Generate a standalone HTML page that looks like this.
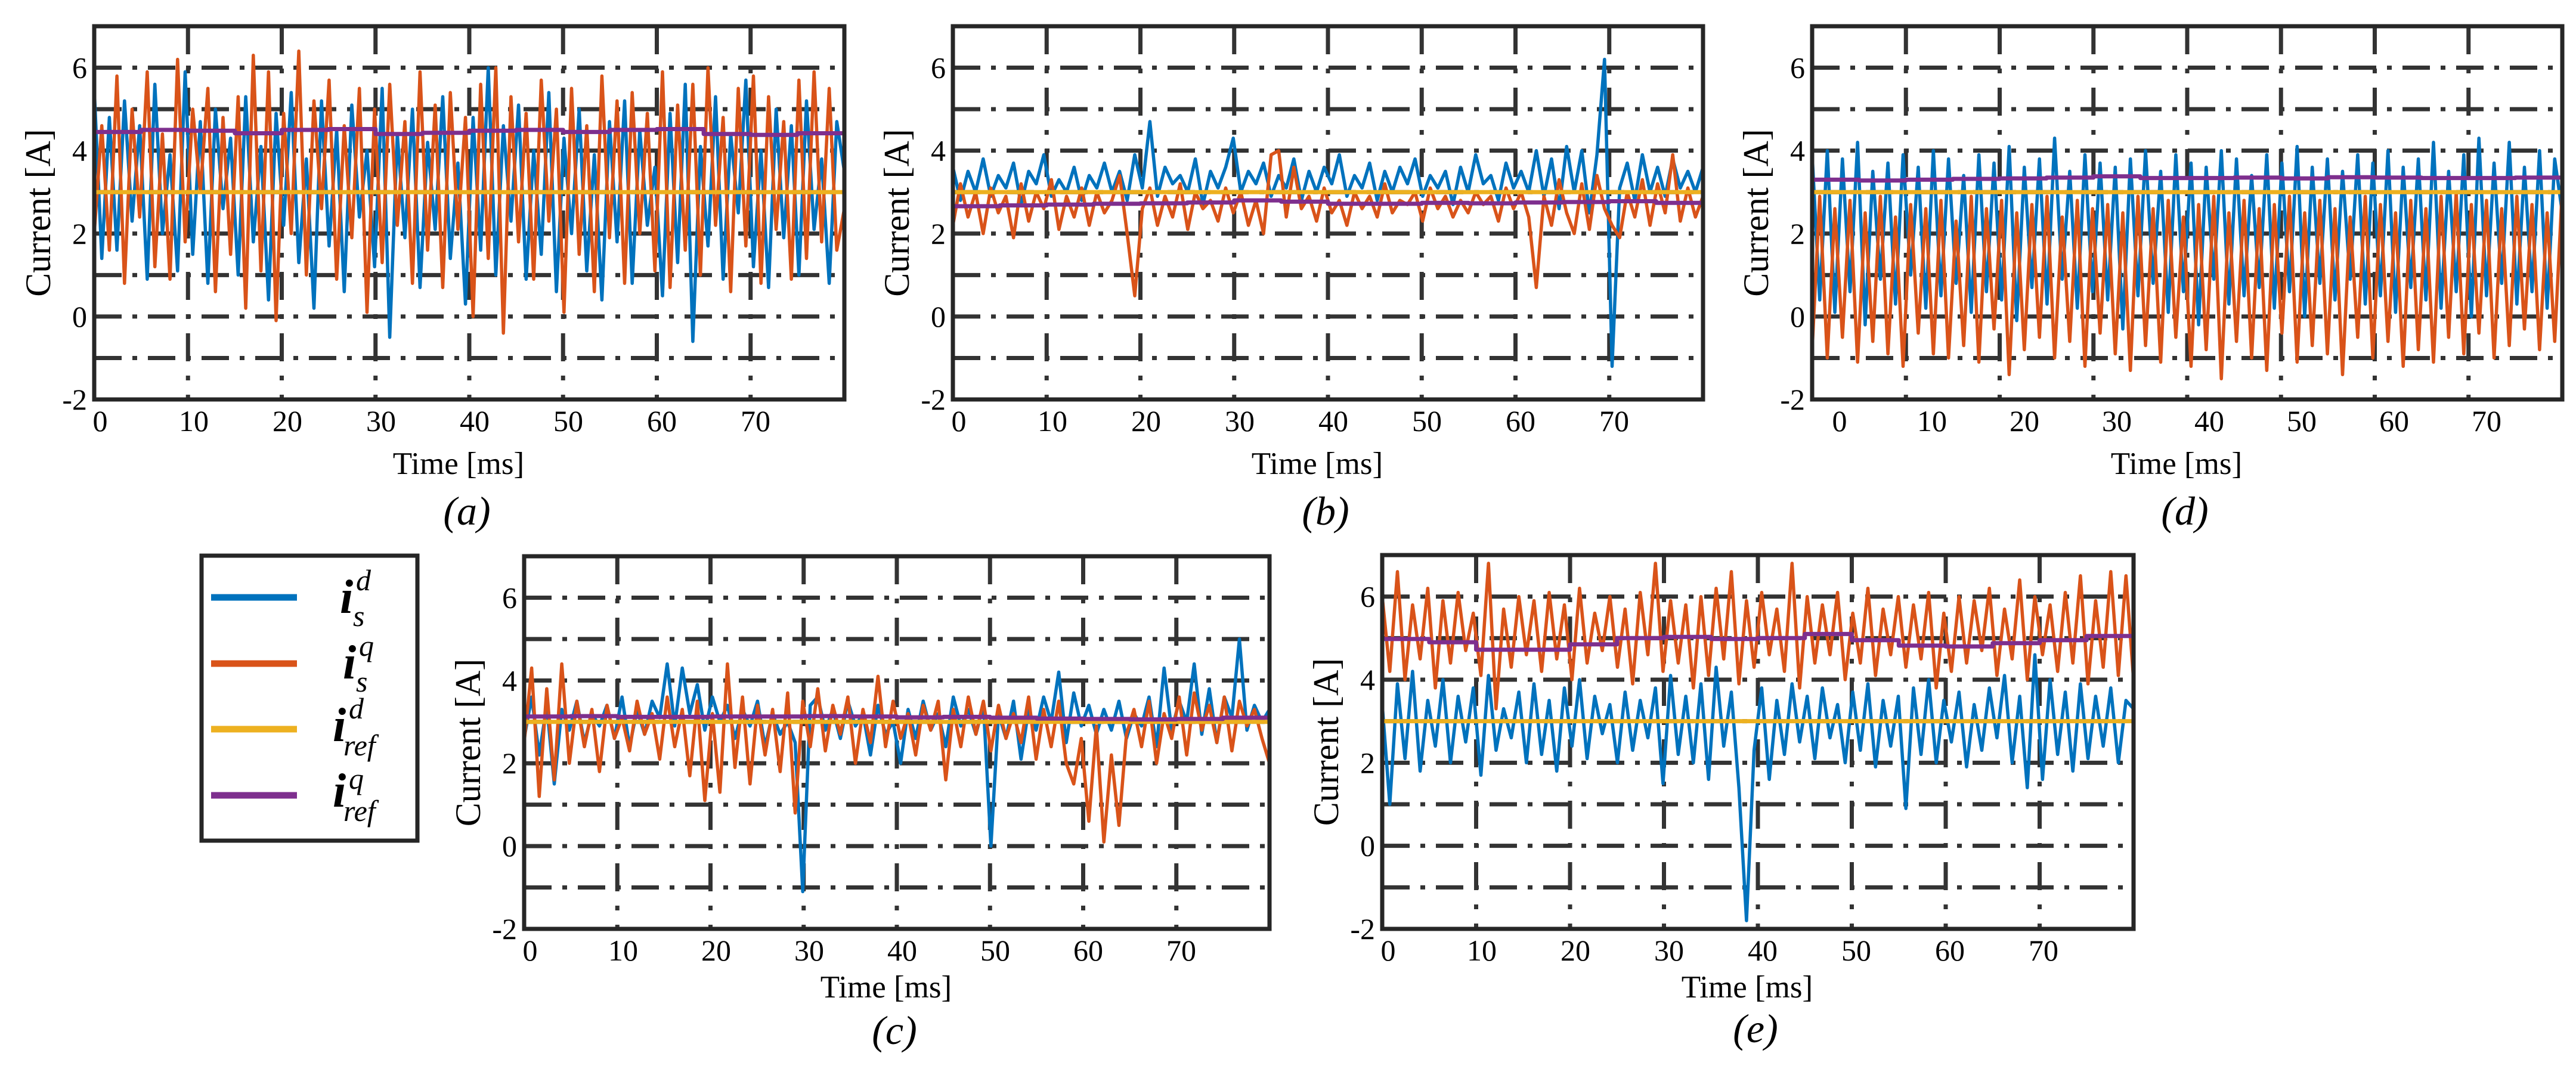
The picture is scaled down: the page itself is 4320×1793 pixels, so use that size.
<!DOCTYPE html>
<html><head><meta charset="utf-8"><style>
html,body{margin:0;padding:0;background:#fff;}
svg{display:block;}
text{font-family:"Liberation Serif",serif;fill:#000;}
</style></head>
<body>
<svg id="fig" width="4320" height="1793" viewBox="0 0 4320 1793" xmlns="http://www.w3.org/2000/svg">
<rect x="0" y="0" width="4320" height="1793" fill="#fff"/>
<g id="legend">
  <rect x="338" y="932" width="362" height="478" fill="#fff" stroke="#262626" stroke-width="7"/>
  <line x1="354" y1="1002" x2="498" y2="1002" stroke="#0072BD" stroke-width="11"/>
  <line x1="354" y1="1113" x2="498" y2="1113" stroke="#D95319" stroke-width="11"/>
  <line x1="354" y1="1223" x2="498" y2="1223" stroke="#EDB120" stroke-width="11"/>
  <line x1="354" y1="1334" x2="498" y2="1334" stroke="#7E2F8E" stroke-width="11"/>
  <g font-style="italic">
    <text x="570" y="1028" font-size="80" font-weight="bold">i</text>
    <text x="597" y="990" font-size="50">d</text>
    <text x="592" y="1050" font-size="50">s</text>
  </g>
  <g font-style="italic">
    <text x="575" y="1138" font-size="80" font-weight="bold">i</text>
    <text x="602" y="1100" font-size="50">q</text>
    <text x="597" y="1160" font-size="50">s</text>
  </g>
  <g font-style="italic">
    <text x="558" y="1243" font-size="80" font-weight="bold">i</text>
    <text x="585" y="1205" font-size="50">d</text>
    <text x="576" y="1267" font-size="50">ref</text>
  </g>
  <g font-style="italic">
    <text x="558" y="1353" font-size="80" font-weight="bold">i</text>
    <text x="585" y="1323" font-size="50">q</text>
    <text x="576" y="1377" font-size="50">ref</text>
  </g>
</g>
</svg>
<script>
// ---- data (sampled ~every 0.8 ms over 0..80 ms) ----
const yTicks = [-2, 0, 2, 4, 6];
const yGrid = [-1, 0, 1, 2, 3, 4, 5, 6];
const xTicks = [0, 10, 20, 30, 40, 50, 60, 70];
const xGrid = [10, 20, 30, 40, 50, 60, 70];
const refD = 3.0;

const aIsd = [5.5,1.4,4.8,1.6,5.2,2.3,4.6,0.9,5.6,2.0,3.9,1.1,5.9,1.5,4.7,0.8,5.0,2.6,4.3,1.0,
5.3,1.8,4.1,0.4,4.9,2.2,5.4,1.3,3.8,0.2,5.2,1.7,4.5,0.6,5.1,2.4,4.0,1.2,5.5,-0.5,
4.4,1.9,5.0,0.7,4.2,2.1,5.3,1.4,3.7,0.3,4.8,1.6,6.0,1.0,4.6,2.3,5.1,0.9,4.0,1.5,
5.4,0.6,4.3,2.0,5.0,1.1,3.9,0.4,4.7,1.8,5.2,0.8,4.5,2.2,3.6,0.5,4.9,1.3,5.6,-0.6,
4.1,1.7,5.3,0.9,4.4,2.5,5.7,1.2,4.0,0.7,5.0,1.9,4.6,1.0,5.2,2.1,3.8,0.8,4.7,3.5];
const aIsq = [2.0,4.6,1.6,5.8,0.8,5.0,2.4,5.9,1.2,4.4,0.9,6.2,1.8,5.0,3.0,5.5,0.6,4.8,1.5,5.3,
0.2,6.3,1.1,5.9,-0.1,4.9,2.0,6.4,1.0,5.2,2.6,5.7,0.9,4.6,1.9,5.5,0.1,5.0,1.3,5.6,
2.2,4.7,0.8,5.9,1.6,5.1,0.7,5.4,2.1,4.8,0.0,5.6,1.4,6.0,-0.4,5.3,1.8,4.9,0.9,5.7,
2.3,5.0,0.1,5.5,1.5,4.6,0.6,5.8,1.9,5.2,0.8,5.4,2.0,4.9,1.1,5.9,0.7,5.1,1.6,5.6,
1.0,6.0,2.2,4.8,0.6,5.5,1.7,5.8,0.8,5.3,2.1,4.7,0.9,5.7,1.4,5.9,1.8,5.5,1.6,2.6];
const aRefQ = [4.45,4.5,4.48,4.42,4.5,4.52,4.4,4.43,4.48,4.5,4.45,4.5,4.52,4.4,4.38,4.42,4.4];

const bIsd = [3.6,2.8,3.5,3.0,3.8,2.9,3.4,3.1,3.7,2.7,3.5,3.2,3.9,2.9,3.3,3.0,3.6,2.8,3.4,3.1,
3.7,3.0,3.5,2.8,3.9,3.1,4.7,2.9,3.6,3.2,3.4,3.0,3.8,2.7,3.5,3.1,3.6,4.3,3.0,3.5,
3.2,3.7,2.9,3.4,3.1,3.8,2.8,3.5,3.0,3.6,3.2,3.9,2.9,3.4,3.1,3.7,2.8,3.5,3.0,3.6,
3.2,3.8,2.9,3.4,3.1,3.5,2.7,3.6,3.0,3.9,3.2,3.4,2.8,3.7,3.1,3.5,3.0,4.0,2.9,3.8,
2.6,4.1,3.0,4.0,2.5,3.9,6.2,-1.2,3.1,3.7,2.8,3.9,3.0,3.6,2.9,3.8,3.1,3.5,3.0,3.6];
const bIsq = [2.2,3.2,2.4,3.0,2.0,3.1,2.5,2.9,1.9,3.2,2.3,3.0,2.6,3.3,2.1,2.9,2.4,3.1,2.2,3.0,
2.5,2.8,3.4,2.0,0.5,2.6,3.1,2.2,2.9,2.4,3.2,2.1,3.0,2.6,2.8,2.3,3.1,2.5,3.0,2.2,
2.8,2.0,3.9,4.0,2.4,3.6,2.6,2.9,2.3,3.1,2.5,2.8,2.2,3.0,2.6,2.9,2.4,3.2,2.5,2.8,
2.7,3.0,2.3,3.1,2.6,2.9,2.4,2.8,2.5,3.0,2.7,2.9,2.3,3.1,2.6,3.0,2.4,0.7,2.9,2.2,
3.3,2.5,2.0,3.2,2.1,3.4,2.6,2.2,1.9,3.0,2.4,3.3,2.2,3.2,2.5,3.9,2.3,3.1,2.4,2.9];
const bRefQ = [2.66,2.68,2.7,2.72,2.73,2.75,2.8,2.77,2.72,2.72,2.74,2.73,2.75,2.76,2.78,2.74,2.68];

const dIsd = [3.9,0.4,4.0,0.1,3.8,0.6,4.2,-0.2,3.5,0.9,3.7,0.3,3.9,1.0,3.6,0.2,4.0,0.5,3.8,0.8,
3.4,0.1,3.9,0.6,3.7,0.4,4.1,-0.1,3.6,0.7,3.8,0.3,4.3,0.9,3.5,0.2,3.9,0.6,3.7,0.4,
3.6,-0.3,3.8,0.5,4.0,0.8,3.5,0.1,3.9,0.6,3.7,-0.2,3.6,0.9,4.0,0.3,3.8,0.5,3.4,0.7,
3.9,0.2,3.7,0.6,4.1,0.0,3.6,0.8,3.8,0.4,3.5,0.9,3.9,0.3,3.7,0.5,4.0,0.1,3.6,0.7,
3.8,0.4,4.2,0.2,3.5,0.6,3.9,0.0,4.3,0.5,3.7,0.8,4.2,0.3,3.6,0.6,4.0,0.2,3.8,2.5];
const dIsq = [-0.8,2.9,-1.0,2.6,-0.5,2.8,-1.1,2.5,-0.6,2.9,-0.9,2.4,-1.2,2.7,-0.4,2.6,-0.9,2.8,-1.0,2.3,
-0.7,2.9,-1.1,2.6,-0.3,2.8,-1.4,2.5,-0.8,2.7,-0.5,2.9,-1.0,2.4,-0.6,2.8,-1.2,2.6,-0.4,2.7,
-0.9,2.5,-1.3,2.9,-0.7,2.6,-1.1,2.8,-0.5,2.4,-1.2,2.7,-0.8,2.9,-1.5,2.5,-0.6,2.8,-1.0,2.6,
-1.3,2.7,-0.4,2.9,-1.1,2.5,-0.7,2.8,-0.9,2.6,-1.4,2.4,-0.5,2.9,-1.0,2.7,-0.6,2.5,-1.2,2.8,
-0.8,2.6,-1.1,2.9,-0.5,3.0,-0.9,2.7,-0.4,2.8,-1.0,2.6,-0.7,2.9,-0.3,2.7,-0.8,2.5,-0.6,3.1];
const dRefQ = [3.3,3.28,3.3,3.32,3.33,3.35,3.38,3.34,3.34,3.35,3.33,3.36,3.35,3.34,3.34,3.35,3.36];

const cIsd = [2.6,3.6,2.2,3.4,1.5,3.3,2.8,3.5,2.5,3.2,2.9,3.4,2.6,3.6,2.4,3.3,2.7,3.5,3.1,4.4,
2.9,4.3,3.2,3.9,2.8,3.6,3.0,3.4,2.6,3.3,2.9,3.5,2.4,3.2,2.7,3.0,2.5,-1.1,3.4,3.6,
2.8,3.3,2.6,3.5,2.9,3.2,2.2,3.4,2.7,3.0,2.0,3.3,2.6,3.5,2.8,3.2,2.4,3.6,2.9,3.3,
2.7,3.4,0.0,3.2,2.6,3.5,2.1,3.3,2.8,3.6,3.0,4.2,2.5,3.7,2.9,3.4,2.7,3.3,2.8,3.5,
2.6,3.2,2.9,3.6,2.4,4.3,2.8,3.5,3.0,4.4,2.7,3.8,2.5,3.6,3.1,5.0,2.8,3.4,3.0,3.3];
const cIsq = [2.5,4.3,1.2,3.8,1.6,4.4,2.0,3.5,2.4,3.3,1.8,3.4,2.6,3.1,2.3,3.5,2.7,3.2,2.1,3.6,
2.4,3.3,1.7,3.5,1.1,3.2,1.3,4.4,1.9,3.6,1.5,3.4,2.2,3.3,1.8,3.7,0.8,3.5,2.4,3.8,
2.3,3.4,2.7,3.6,2.0,3.3,2.5,4.1,2.4,3.5,2.6,3.2,2.2,3.4,2.8,3.5,1.6,3.3,2.4,3.6,
2.7,3.5,2.3,3.4,2.6,3.2,2.5,3.6,2.1,3.3,2.4,3.5,2.0,1.5,2.6,0.6,2.9,0.1,2.2,0.5,
2.7,3.3,2.4,3.5,2.0,3.2,2.6,3.6,2.2,3.7,2.8,3.4,2.5,3.6,2.3,3.5,2.9,3.3,2.6,2.0];
const cRefQ = [3.13,3.14,3.12,3.12,3.13,3.13,3.14,3.13,3.11,3.12,3.1,3.08,3.07,3.06,3.07,3.1,3.12];

const eIsd = [3.4,1.0,3.9,2.1,4.2,1.8,3.5,2.4,4.0,2.0,3.6,2.5,3.8,1.7,4.1,2.3,3.3,2.6,3.7,2.0,
3.9,2.2,3.5,1.8,3.8,2.4,4.0,2.1,3.6,2.7,3.4,2.0,3.7,2.3,3.5,2.6,3.8,1.5,4.1,2.2,
3.6,2.0,3.9,1.6,4.3,2.4,3.7,1.4,-1.8,2.3,3.8,1.6,3.5,2.2,3.9,2.5,3.6,2.1,3.8,2.6,
3.4,2.0,3.7,2.3,3.9,1.9,3.5,2.4,3.6,0.9,3.8,2.2,4.0,2.0,3.5,2.5,3.7,1.9,3.4,2.3,
3.8,2.6,4.1,2.0,3.6,1.4,4.6,1.6,4.0,2.2,3.7,1.8,3.9,2.1,3.6,2.4,3.8,2.0,3.5,3.3];
const eIsq = [6.0,4.2,6.6,4.0,5.8,4.5,6.2,3.8,5.9,4.4,6.1,4.7,5.6,4.1,6.8,3.3,5.7,4.3,6.0,4.6,
5.9,4.2,6.1,4.5,5.8,4.0,6.2,4.4,5.6,4.7,6.0,4.3,5.7,3.9,6.1,4.6,6.8,4.2,5.9,4.4,
5.8,3.8,6.0,4.1,6.2,4.5,6.6,3.9,5.9,4.3,6.1,4.6,5.7,4.2,6.8,3.8,6.0,4.4,5.8,4.6,
6.1,4.0,5.6,4.4,6.2,4.1,5.7,4.6,6.0,4.3,5.8,4.5,6.1,3.8,5.6,4.2,6.0,4.4,5.9,4.7,
6.2,4.1,5.7,4.5,6.4,4.0,6.0,4.6,5.8,4.2,6.1,4.4,6.5,3.9,5.9,4.3,6.6,4.1,6.5,4.0];
const eRefQ = [4.98,4.9,4.72,4.72,4.85,5.0,5.03,4.98,5.0,5.1,4.95,4.82,4.8,4.88,4.95,5.05,5.0];

const panels = [
  {id:'a', L:158, T:44, R:1416, B:670, d:aIsd, q:aIsq, rq:aRefQ, lblOff:10, lblStep:157, tOff:125, cOff:210},
  {id:'b', L:1598, T:44, R:2856, B:670, d:bIsd, q:bIsq, rq:bRefQ, lblOff:10, lblStep:157, tOff:125, cOff:210},
  {id:'d', L:3039, T:44, R:4297, B:670, d:dIsd, q:dIsq, rq:dRefQ, lblOff:46, lblStep:155, tOff:125, cOff:210},
  {id:'c', L:879, T:933, R:2129, B:1558, d:cIsd, q:cIsq, rq:cRefQ, lblOff:10, lblStep:156, tOff:115, cOff:193},
  {id:'e', L:2318, T:931, R:3578, B:1558, d:eIsd, q:eIsq, rq:eRefQ, lblOff:10, lblStep:157, tOff:115, cOff:190}
];

const NS = 'http://www.w3.org/2000/svg';
const svg = document.getElementById('fig');
const legend = document.getElementById('legend');
function mk(tag, attrs, parent){
  const e = document.createElementNS(NS, tag);
  for (const k in attrs) e.setAttribute(k, attrs[k]);
  parent.appendChild(e);
  return e;
}
function pathFrom(vals, xs, ys){
  let s = '';
  for (let i = 0; i < vals.length; i++){
    const t = 80 * i / (vals.length - 1);
    s += (i ? 'L' : 'M') + xs(t).toFixed(1) + ',' + ys(vals[i]).toFixed(1);
  }
  return s;
}
function stepFrom(vals, xs, ys){
  let s = '';
  for (let i = 0; i < vals.length; i++){
    const t = 80 * i / (vals.length - 1);
    const tn = 80 * Math.min(i + 1, vals.length - 1) / (vals.length - 1);
    s += (i ? 'L' : 'M') + xs(t).toFixed(1) + ',' + ys(vals[i]).toFixed(1);
    s += 'L' + xs(tn).toFixed(1) + ',' + ys(vals[i]).toFixed(1);
  }
  return s;
}

panels.forEach(p => {
  const xs = t => p.L + (t / 80) * (p.R - p.L);
  const ys = v => p.B - ((v + 2) / 9) * (p.B - p.T);
  const g = mk('g', {}, svg);
  
  
  svg.insertBefore(g, legend);
  const clipId = 'clip-' + p.id;
  const cp = mk('clipPath', {id: clipId}, g);
  mk('rect', {x:p.L, y:p.T, width:p.R - p.L, height:p.B - p.T}, cp);

  yGrid.forEach(v => {
    const l = mk('line', {x1:p.L, x2:p.R, y1:ys(v), y2:ys(v), stroke:'#333', 'stroke-width':7, 'stroke-dasharray':'46 18 8 18'}, g);
    
    
  });
  xGrid.forEach(t => {
    const l = mk('line', {x1:xs(t), x2:xs(t), y1:p.T, y2:p.B, stroke:'#333', 'stroke-width':7, 'stroke-dasharray':'47 24 8 24'}, g);
    
    
  });

  const sg = mk('g', {'clip-path':'url(#' + clipId + ')', fill:'none', 'stroke-linejoin':'round'}, g);
  const s1 = mk('path', {d:pathFrom(p.d, xs, ys), stroke:'#0072BD', 'stroke-width':5.5}, sg);
  
  
  const s2 = mk('path', {d:pathFrom(p.q, xs, ys), stroke:'#D95319', 'stroke-width':5.5}, sg);
  
  
  const s3 = mk('line', {x1:p.L, x2:p.R, y1:ys(refD), y2:ys(refD), stroke:'#EDB120', 'stroke-width':7}, sg);
  
  
  const s4 = mk('path', {d:stepFrom(p.rq, xs, ys), stroke:'#7E2F8E', 'stroke-width':7}, sg);
  
  

  const fr = mk('rect', {x:p.L, y:p.T, width:p.R - p.L, height:p.B - p.T, fill:'none', stroke:'#262626', 'stroke-width':7}, g);
  
  

  yTicks.forEach(v => {
    const t = mk('text', {x:p.L - 12, y:ys(v) + 17, 'text-anchor':'end', 'font-size':50}, g);
    t.textContent = String(v);
    
    
  });
  xTicks.forEach((v, k) => {
    const t = mk('text', {x:p.L + p.lblOff + k * p.lblStep, y:p.B + 53, 'text-anchor':'middle', 'font-size':50}, g);
    t.textContent = String(v);
    
    
  });
  const cy = (p.T + p.B) / 2;
  const yl = mk('text', {x:p.L - 74, y:cy, 'text-anchor':'middle', 'font-size':60, transform:'rotate(-90 ' + (p.L - 74) + ' ' + cy + ')'}, g);
  yl.textContent = 'Current [A]';
  
  
  const cx = (p.L + p.R) / 2 - 18;
  const xl = mk('text', {x:cx, y:p.B + p.tOff, 'text-anchor':'middle', 'font-size':53}, g);
  xl.textContent = 'Time [ms]';
  
  
  const cap = mk('text', {x:cx + 14, y:p.B + p.cOff, 'text-anchor':'middle', 'font-size':68, 'font-style':'italic'}, g);
  cap.textContent = '(' + p.id + ')';
  
  
});
</script>
</body></html>
